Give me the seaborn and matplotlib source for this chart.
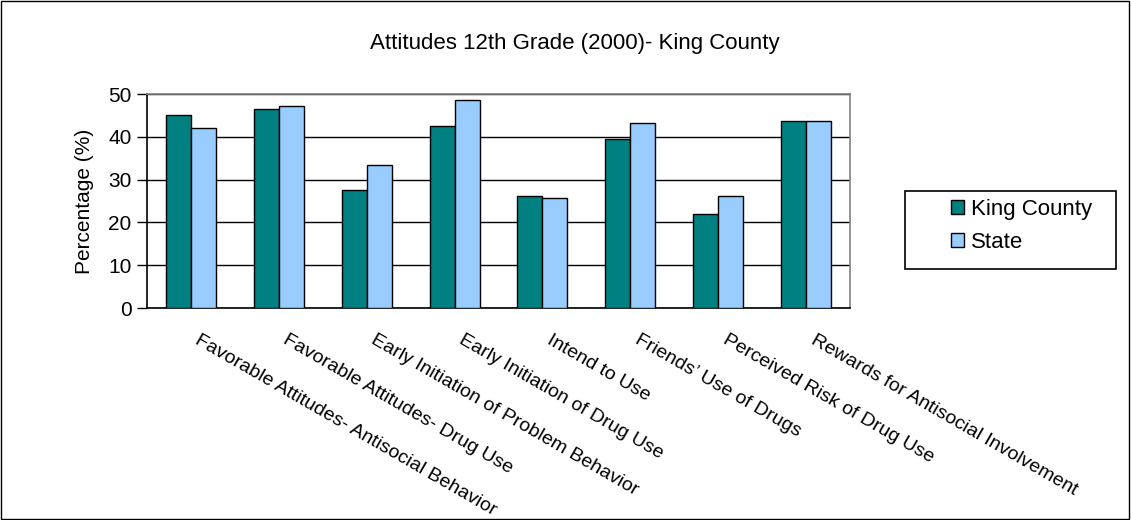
import pandas as pd
import matplotlib
matplotlib.use('Agg')
from matplotlib import pyplot as plt
from matplotlib.patches import Rectangle
from matplotlib.transforms import ScaledTranslation
import seaborn as sns

kategorie = ['Favorable Attitudes- Antisocial Behavior',
             'Favorable Attitudes- Drug Use',
             'Early Initiation of Problem Behavior',
             'Early Initiation of Drug Use',
             'Intend to Use',
             'Friends\u2019 Use of Drugs',
             'Perceived Risk of Drug Use',
             'Rewards for Antisocial Involvement']
king_county = [45.0, 46.6, 27.5, 42.5, 26.2, 39.5, 22.0, 43.7]
state = [42.1, 47.1, 33.3, 48.7, 25.8, 43.3, 26.2, 43.7]
serie = ['King County', 'State']
y_ticks = [0, 10, 20, 30, 40, 50]

dane = pd.DataFrame({
    'kategoria': kategorie * 2,
    'wartosc': king_county + state,
    'seria': [serie[0]] * len(kategorie) + [serie[1]] * len(kategorie),
})

sns.set_style('white')
plt.rcParams['font.family'] = ['Liberation Sans', 'DejaVu Sans']
plt.rcParams['text.color'] = 'black'
plt.rcParams['axes.labelcolor'] = 'black'
plt.rcParams['xtick.color'] = 'black'
plt.rcParams['ytick.color'] = 'black'

fig = plt.figure(figsize=(11.31, 5.2), dpi=100)
ax = fig.add_axes([147 / 1131, 1 - 308 / 520, 703 / 1131, 214 / 520])

sns.barplot(data=dane, x='kategoria', y='wartosc', hue='seria',
            palette=['#008080', '#99CCFF'], saturation=1, width=0.57,
            edgecolor='black', linewidth=1, ax=ax, legend=True, zorder=3)

ax.set_ylim(0, 50)
ax.set_xlim(-0.5, len(kategorie) - 0.5)
ax.set_yticks(y_ticks)
ax.set_yticklabels([str(v) for v in y_ticks], fontsize=15)
ax.yaxis.grid(True, color='black', linewidth=1, zorder=0)
ax.set_axisbelow(True)
ax.set_xlabel('')
ax.set_ylabel('Percentage (%)', fontsize=15, labelpad=10)

# etykiety kategorii pod kątem, znaczniki między grupami
ax.set_xticks(range(len(kategorie)))
ax.set_xticklabels(kategorie, rotation=-30, ha='left', va='top',
                   rotation_mode='anchor', fontsize=14)
ax.tick_params(axis='x', which='major', length=0, pad=17)
przesun = ScaledTranslation(10 / 100, 0, fig.dpi_scale_trans)
for lab in ax.get_xticklabels():
    lab.set_transform(lab.get_transform() + przesun)
ax.set_xticks([i - 0.5 for i in range(len(kategorie) + 1)], minor=True)
ax.tick_params(axis='x', which='minor', length=5, width=1, color='black', direction='out')
ax.tick_params(axis='y', length=7, width=1, color='black', direction='out', left=True, pad=4)

ax.spines['left'].set_color('black')
ax.spines['bottom'].set_color('black')
ax.spines['top'].set_color('#808080')
ax.spines['right'].set_color('#808080')
for s in ax.spines.values():
    s.set_linewidth(1.2)

uchwyty, etykiety = ax.get_legend_handles_labels()
ax.get_legend().remove()
leg = fig.legend(uchwyty, etykiety, loc='upper left',
                 bbox_to_anchor=(951 / 1131, 1 - 199 / 520), fontsize=16,
                 frameon=False, handlelength=0.6, handleheight=0.6,
                 handletextpad=0.3, borderpad=0, labelspacing=0.55,
                 borderaxespad=0)
fig.patches.append(Rectangle((905 / 1131, 1 - 269 / 520), 211 / 1131, 78 / 520,
                             transform=fig.transFigure, fill=False,
                             edgecolor='black', linewidth=1.2))

fig.text(575 / 1131, 1 - 44 / 520, 'Attitudes 12th Grade (2000)- King County',
         ha='center', va='center', fontsize=16)

fig.patches.append(Rectangle((0.001, 0.002), 0.997, 0.996, transform=fig.transFigure,
                             fill=False, edgecolor='black', linewidth=1))

fig.savefig('out.png', dpi=100)
